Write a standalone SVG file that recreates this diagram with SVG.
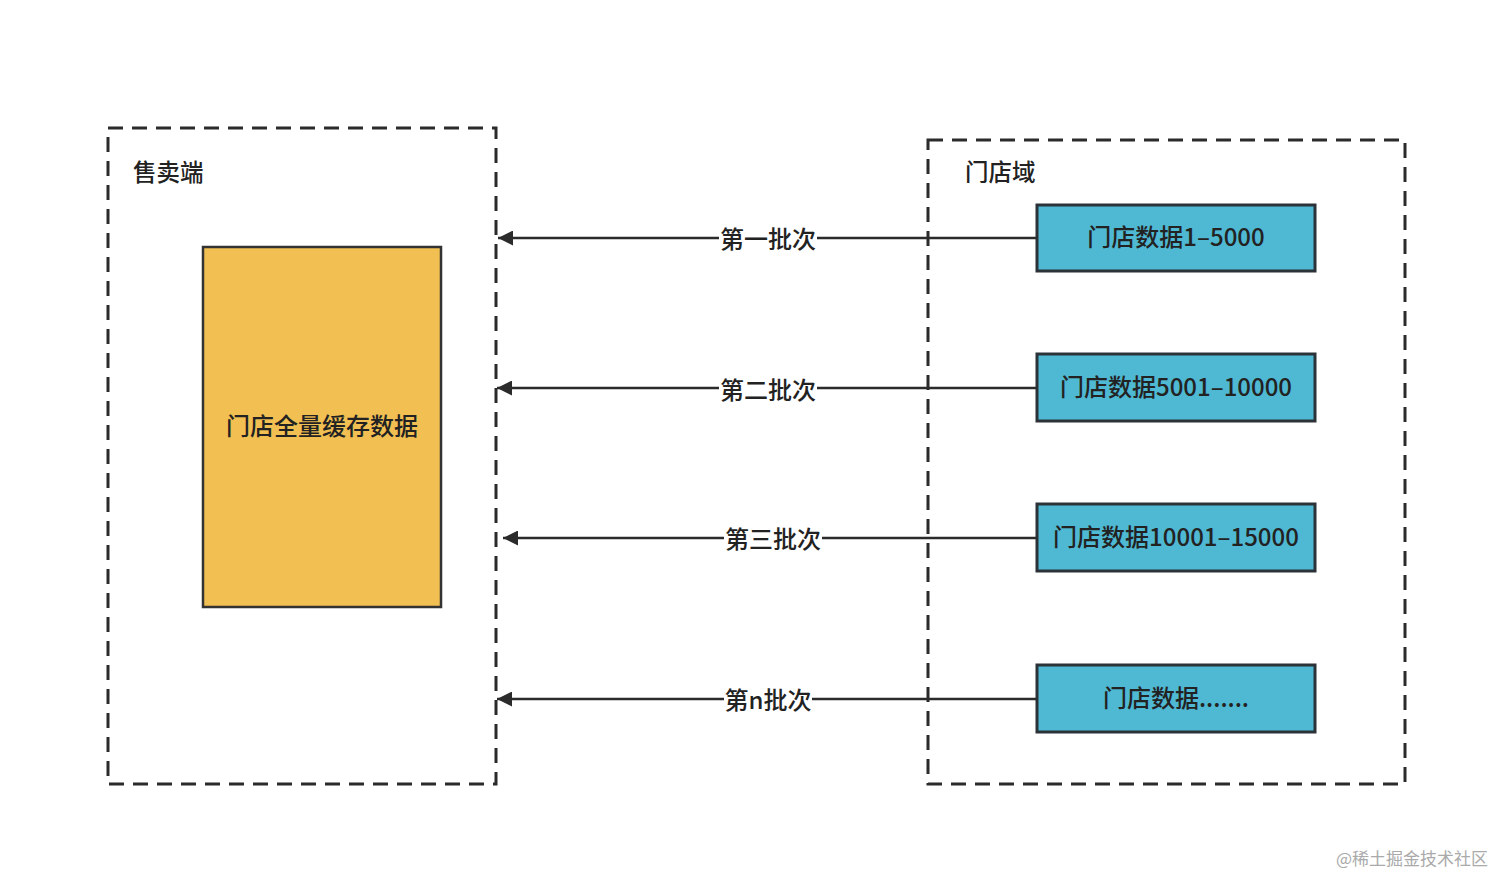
<svg xmlns="http://www.w3.org/2000/svg" width="1512" height="893" viewBox="0 0 1512 893">
<style>
.t{font-family:"Noto Sans CJK SC","Noto Sans",sans-serif;fill:#222;font-weight:500;}
.grp{fill:none;stroke:#2b2b2b;stroke-width:3;stroke-dasharray:15 9;}
.blue{fill:#4FB8D3;stroke:#2b3238;stroke-width:3;}
.conn{stroke:#2b2b2b;stroke-width:2.5;fill:none;marker-end:url(#ah);}
.lbl{font-size:24px;text-anchor:middle;}
</style>
<defs>
<marker id="ah" viewBox="0 0 10 10" refX="10" refY="5" markerWidth="8" markerHeight="6" markerUnits="strokeWidth" orient="auto">
<path d="M0,0 L10,5 L0,10 z" fill="#2b2b2b"/>
</marker>
</defs>
<rect width="1512" height="893" fill="#fff"/>
<g id="sell">
<rect class="grp" x="108" y="128" width="388" height="656"/>
<text class="t" x="133" y="181" font-size="23.5">售卖端</text>
</g>
<g id="store">
<rect class="grp" x="928" y="140" width="477" height="644"/>
<text class="t" x="965" y="181" font-size="23.5">门店域</text>
</g>
<g id="cache">
<rect x="203" y="247" width="238" height="360" fill="#F2C052" stroke="#333" stroke-width="2.5"/>
<text class="t lbl" x="322" y="435">门店全量缓存数据</text>
</g>
<g id="b1"><rect class="blue" x="1037" y="205" width="278" height="66"/><text class="t lbl" x="1176" y="246">门店数据1–5000</text></g>
<g id="b2"><rect class="blue" x="1037" y="354" width="278" height="67"/><text class="t lbl" x="1176" y="396">门店数据5001–10000</text></g>
<g id="b3"><rect class="blue" x="1037" y="504" width="278" height="67"/><text class="t lbl" x="1176" y="546">门店数据10001–15000</text></g>
<g id="b4"><rect class="blue" x="1037" y="665" width="278" height="67"/><text class="t lbl" x="1176" y="707">门店数据.......</text></g>
<g id="connectors">
<line class="conn" x1="1037" y1="238" x2="498" y2="238"/>
<line class="conn" x1="1037" y1="388" x2="497" y2="388"/>
<line class="conn" x1="1037" y1="538" x2="503" y2="538"/>
<line class="conn" x1="1037" y1="699" x2="497" y2="699"/>
<rect x="719" y="224" width="98" height="28" fill="#fff"/>
<text class="t lbl" x="768" y="248">第一批次</text>
<rect x="719" y="374" width="98" height="28" fill="#fff"/>
<text class="t lbl" x="768" y="399">第二批次</text>
<rect x="724" y="524" width="98" height="28" fill="#fff"/>
<text class="t lbl" x="773" y="548">第三批次</text>
<rect x="724" y="685" width="88" height="28" fill="#fff"/>
<text class="t lbl" x="768" y="709">第n批次</text>
</g>
<text x="1488" y="865" font-family="Noto Sans CJK SC, sans-serif" font-size="17" fill="#aaa" text-anchor="end">@稀土掘金技术社区</text>
</svg>
